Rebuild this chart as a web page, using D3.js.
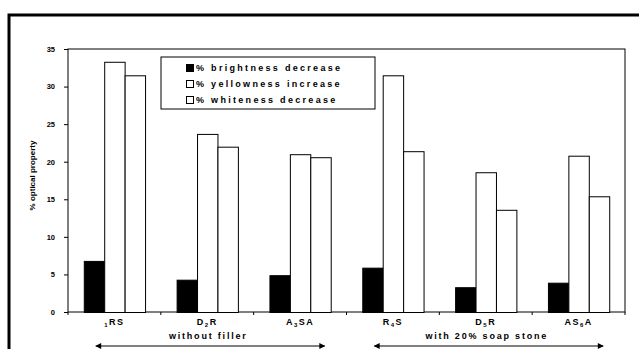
<!DOCTYPE html>
<html>
<head>
<meta charset="utf-8">
<script src="https://cdn.jsdelivr.net/npm/d3@7"></script>
<style>
    body { margin: 0; background: #ffffff; }
    svg { display: block; font-family: 'Liberation Sans', Arial, sans-serif; font-weight: bold; }
</style>
</head>
<body>
<div id="chart"></div>
<script>
// categories (label text, subscript, rest)
const categories = ['g1', 'g2', 'g3', 'g4', 'g5', 'g6'];
const category_labels = [['', '1', 'RS'], ['D', '2', 'R'], ['A', '3', 'SA'], ['R', '4', 'S'], ['D', '5', 'R'], ['AS', '6', 'A']];
const series_names = ['% brightness decrease', '% yellowness increase', '% whiteness decrease'];
const brightness = [6.8, 4.3, 4.9, 5.9, 3.3, 3.9];
const yellowness = [33.3, 23.7, 21.0, 31.5, 18.6, 20.8];
const whiteness = [31.5, 22.0, 20.6, 21.4, 13.6, 15.4];
const y_ticks = [0, 5, 10, 15, 20, 25, 30, 35];
const sections = [{label: 'without filler', from: 0, to: 2}, {label: 'with 20% soap stone', from: 3, to: 5}];

(function() {
    const width = 639, height = 349;
    const margin = {top: 49, right: 14, bottom: 37, left: 68};
    const inner_w = width - margin.left - margin.right,
        inner_h = height - margin.top - margin.bottom;

    const series = [brightness, yellowness, whiteness];
    const fills = ['#000000', '#ffffff', '#ffffff'];

    let svg = d3.select('#chart').append('svg')
        .attr('width', width)
        .attr('height', height);

    // outer frame (only top and left edge visible)
    svg.append('path')
        .attr('d', 'M9,349 L9,15 L639,15')
        .attr('fill', 'none')
        .attr('stroke', '#000')
        .attr('stroke-width', 3);

    let x = d3.scaleBand().domain(categories).range([0, inner_w]).paddingInner(0.34).paddingOuter(0.17);
    let xs = d3.scaleBand().domain([0, 1, 2]).range([0, x.bandwidth()]);
    let y = d3.scaleLinear().domain([0, 35]).range([inner_h, 0]);

    let g = svg.append('g')
        .attr('transform', 'translate(' + margin.left + ',' + margin.top + ')');

    g.append('rect')
        .attr('width', inner_w)
        .attr('height', inner_h)
        .attr('fill', 'none')
        .attr('stroke', '#000')
        .attr('stroke-width', 1);

    // bars
    series.forEach(function(values, si) {
        g.append('g').selectAll('rect')
            .data(values)
            .enter().append('rect')
            .attr('x', (d, i) => x(categories[i]) + xs(si) + 0.5)
            .attr('y', (d) => y(d) + 0.5)
            .attr('width', xs.bandwidth())
            .attr('height', (d) => inner_h - y(d))
            .attr('fill', fills[si])
            .attr('stroke', '#000')
            .attr('stroke-width', 1);
    });

    // y axis
    let ya = g.append('g')
        .call(d3.axisLeft(y).tickValues(y_ticks).tickSize(4).tickPadding(9));
    ya.select('.domain').remove();
    ya.selectAll('text').attr('font-size', 7.5).attr('font-weight', 'bold').attr('font-family', "'Liberation Sans', Arial, sans-serif");

    g.append('text')
        .attr('transform', 'rotate(-90)')
        .attr('x', -inner_h / 2 + 5)
        .attr('y', -33)
        .attr('text-anchor', 'middle')
        .attr('font-size', 8)
        .text('% optical property');

    // x axis ticks at group boundaries
    let step = x.step();
    g.append('g').selectAll('line')
        .data(d3.range(categories.length + 1))
        .enter().append('line')
        .attr('x1', (d) => d * step)
        .attr('x2', (d) => d * step)
        .attr('y1', inner_h)
        .attr('y2', inner_h + 3)
        .attr('stroke', '#000');

    let labels = g.append('g').selectAll('text')
        .data(category_labels)
        .enter().append('text')
        .attr('x', (d, i) => x(categories[i]) + x.bandwidth() / 2)
        .attr('y', inner_h + 13)
        .attr('text-anchor', 'middle')
        .attr('font-size', 9)
        .attr('letter-spacing', 1.5);
    labels.append('tspan').text((d) => d[0]);
    labels.append('tspan').attr('font-size', 6).attr('dy', 2).text((d) => d[1]);
    labels.append('tspan').attr('dy', -2).text((d) => d[2]);

    // section labels with double arrows
    let defs = svg.append('defs');
    defs.append('marker')
        .attr('id', 'arr')
        .attr('viewBox', '0 0 10 10')
        .attr('refX', 9).attr('refY', 5)
        .attr('markerWidth', 10).attr('markerHeight', 6)
        .attr('orient', 'auto-start-reverse')
        .attr('markerUnits', 'userSpaceOnUse')
        .append('path')
        .attr('d', 'M0,0 L10,5 L0,10 Z')
        .attr('fill', '#000');

    sections.forEach(function(s) {
        let x0 = x(categories[s.from]) + 12,
            x1 = x(categories[s.to]) + x.bandwidth() - 6;
        g.append('text')
            .attr('x', x(categories[s.from + 1]) + x.bandwidth() / 2 + 1)
            .attr('y', inner_h + 27)
            .attr('text-anchor', 'middle')
            .attr('font-size', 9)
            .attr('letter-spacing', 1.8)
            .text(s.label);
        g.append('line')
            .attr('x1', x0).attr('x2', x1)
            .attr('y1', inner_h + 34).attr('y2', inner_h + 34)
            .attr('stroke', '#000')
            .attr('stroke-width', 1)
            .attr('marker-start', 'url(#arr)')
            .attr('marker-end', 'url(#arr)');
    });

    // legend
    let legend = svg.append('g').attr('transform', 'translate(161,57)');
    legend.append('rect')
        .attr('width', 214)
        .attr('height', 52)
        .attr('fill', '#fff')
        .attr('stroke', '#000');
    let items = legend.selectAll('g.item')
        .data(series_names)
        .enter().append('g')
        .attr('transform', (d, i) => 'translate(25,' + (11 + i * 16) + ')');
    items.append('rect')
        .attr('x', 0.5).attr('y', -3.5)
        .attr('width', 7).attr('height', 7)
        .attr('fill', (d, i) => fills[i])
        .attr('stroke', '#000');
    items.append('text')
        .attr('x', 10)
        .attr('dy', '0.35em')
        .attr('font-size', 9)
        .attr('letter-spacing', 2.3)
        .text((d) => d);
}());
</script>
</body>
</html>
